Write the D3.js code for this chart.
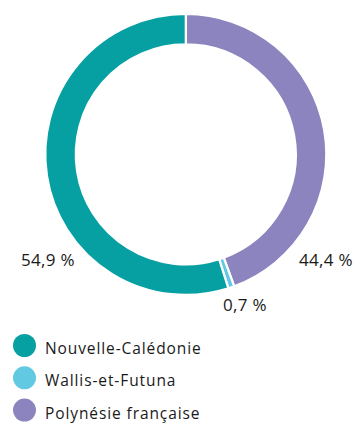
<!DOCTYPE html>
<html>
<head>
<meta charset="utf-8">
<script src="https://cdn.jsdelivr.net/npm/d3@7"></script>
<style>
  html, body { margin: 0; padding: 0; background: #fff; }
  svg text { font-family: "Open Sans", "Lato", sans-serif; fill: #1a1a1a; }
</style>
</head>
<body>
<svg id="chart" width="357" height="424"></svg>
<script>
// Répartition par collectivité (en %)
const categories = ["Polynésie française", "Wallis-et-Futuna", "Nouvelle-Calédonie"];
const values = [44.4, 0.7, 54.9];
const valueLabels = ["44,4 %", "0,7 %", "54,9 %"];
const colors = ["#8c84be", "#62c9e2", "#06a0a2"];
const legendOrder = ["Nouvelle-Calédonie", "Wallis-et-Futuna", "Polynésie française"];

const svg = d3.select("#chart");
const cx = 185.8, cy = 154.4, outerR = 140.5, innerR = 110;

const pie = d3.pie().sort(null).value(d => d.value);
const arcs = pie(categories.map((c, i) => ({ name: c, value: values[i], label: valueLabels[i] })));
const arc = d3.arc().innerRadius(innerR).outerRadius(outerR);
const color = d3.scaleOrdinal().domain(categories).range(colors);

const g = svg.append("g").attr("transform", `translate(${cx},${cy})`);
g.selectAll("path")
  .data(arcs)
  .join("path")
  .attr("d", arc)
  .attr("fill", d => color(d.data.name))
  .attr("stroke", "#fff")
  .attr("stroke-width", 2.2);

// Étiquettes de valeur
const labelPos = {
  "Polynésie française": { x: 326, y: 266 },
  "Wallis-et-Futuna": { x: 245, y: 311 },
  "Nouvelle-Calédonie": { x: 48, y: 266 }
};
svg.selectAll("text.value")
  .data(arcs)
  .join("text")
  .attr("class", "value")
  .attr("x", d => labelPos[d.data.name].x)
  .attr("y", d => labelPos[d.data.name].y)
  .attr("text-anchor", "middle")
  .style("font-size", "17px")
  .style("letter-spacing", "0.3px")
  .text(d => d.data.label);

// Légende
const legend = svg.append("g").attr("transform", "translate(24.5,345.5)");
const item = legend.selectAll("g")
  .data(legendOrder)
  .join("g")
  .attr("transform", (d, i) => `translate(0,${i * 32.3})`);
item.append("circle").attr("r", 11.5).attr("fill", d => color(d));
item.append("text")
  .attr("x", 20.5)
  .attr("y", 8.5)
  .style("font-size", "15.5px")
  .style("letter-spacing", "0.9px")
  .text(d => d);
</script>
</body>
</html>
